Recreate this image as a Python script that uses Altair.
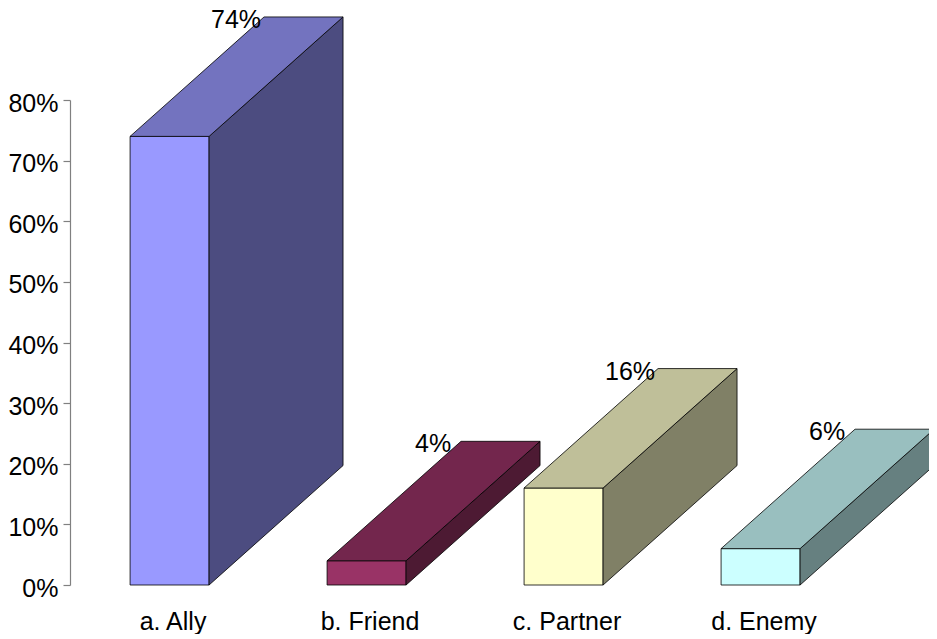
import altair as alt
import pandas as pd

# ---- data ----
categories = ["a. Ally", "b. Friend", "c. Partner", "d. Enemy"]
shares = [0.74, 0.04, 0.16, 0.06]
y_ticks = [0.0, 0.1, 0.2, 0.3, 0.4, 0.5, 0.6, 0.7, 0.8]

# ---- styling ----
front_colors = ["#9999FF", "#993366", "#FFFFCC", "#CCFFFF"]
top_colors = ["#7373BF", "#73264D", "#BFBF99", "#99BFBF"]
side_colors = ["#4C4C80", "#4D1A33", "#808066", "#668080"]
FONT = "Liberation Sans"

# ---- 3D geometry (in scale units: one category slot = 1) ----
BAR_LEFT = 0.305
BAR_RIGHT = 0.706
DEPTH_X = 0.68
DEPTH_Y = 0.197
SLOT_PX = 197
PLOT_W = 859
PLOT_H = 485
X_MAX = PLOT_W / SLOT_PX

front_rows, side_rows, top_rows = [], [], []
for i, (c, s) in enumerate(zip(categories, shares)):
    left, right = i + BAR_LEFT, i + BAR_RIGHT
    front_rows.append({"cat": c, "left": left, "right": right, "share": s})
    side_rows.append({"cat": c, "x": right, "y": 0.0, "y2": s})
    side_rows.append({"cat": c, "x": right + DEPTH_X, "y": DEPTH_Y, "y2": s + DEPTH_Y})
    top_rows.append({"cat": c, "y": s, "x": left, "x2": right, "share": s})
    top_rows.append({"cat": c, "y": s + DEPTH_Y, "x": left + DEPTH_X, "x2": right + DEPTH_X, "share": s})

front_df = pd.DataFrame(front_rows)
side_df = pd.DataFrame(side_rows)
top_df = pd.DataFrame(top_rows)
label_df = pd.DataFrame([
    {"cat": c, "x": i + BAR_LEFT + DEPTH_X, "y": s + DEPTH_Y, "share": s}
    for i, (c, s) in enumerate(zip(categories, shares))
])

xscale = alt.Scale(domain=[0, X_MAX], nice=False, zero=False)
yscale = alt.Scale(domain=[0, 0.8], nice=False)

centers = [i + (BAR_LEFT + BAR_RIGHT) / 2 + 0.015 for i in range(len(categories))]
label_expr = "[" + ",".join("'" + c + "'" for c in categories) + "][round(datum.value - 0.52)]"

x_axis = alt.Axis(values=centers, labelExpr=label_expr, title=None, grid=False,
                  domain=False, ticks=False, tickSize=0, labelPadding=24,
                  labelFontSize=25, labelFont=FONT, labelColor="black")
y_axis = alt.Axis(values=y_ticks, format=".0%", title=None, grid=False,
                  domainColor="#808080", domainWidth=1.2, tickColor="#808080",
                  tickSize=7, tickWidth=1.2, labelPadding=5, labelOffset=3,
                  labelFontSize=25, labelFont=FONT, labelColor="black")

front = alt.Chart(front_df).mark_rect(stroke="black", strokeWidth=0.8).encode(
    x=alt.X("left:Q", scale=xscale, axis=x_axis),
    x2="right:Q",
    y=alt.Y("share:Q", scale=yscale, axis=y_axis),
    y2=alt.datum(0),
    color=alt.Color("cat:N", scale=alt.Scale(domain=categories, range=front_colors), legend=None),
)

side = alt.Chart(side_df).mark_area(orient="vertical", stroke="black", strokeWidth=0.8, opacity=1).encode(
    x=alt.X("x:Q", scale=xscale, axis=x_axis),
    y=alt.Y("y:Q", scale=yscale, axis=y_axis, stack=None),
    y2="y2:Q",
    color=alt.Color("cat:N", scale=alt.Scale(domain=categories, range=side_colors), legend=None),
)

top = alt.Chart(top_df).mark_area(orient="horizontal", stroke="black", strokeWidth=0.8, opacity=1).encode(
    y=alt.Y("y:Q", scale=yscale, axis=y_axis),
    x=alt.X("x:Q", scale=xscale, axis=x_axis, stack=None),
    x2="x2:Q",
    color=alt.Color("cat:N", scale=alt.Scale(domain=categories, range=top_colors), legend=None),
)

labels = alt.Chart(label_df).mark_text(
    font=FONT, fontSize=25, color="black", align="center", baseline="middle", dx=-28, dy=3
).encode(
    x=alt.X("x:Q", scale=xscale, axis=x_axis),
    y=alt.Y("y:Q", scale=yscale, axis=y_axis),
    text=alt.Text("share:Q", format=".0%"),
)

chart = alt.layer(front, side, top, labels).resolve_scale(color="independent").properties(
    width=PLOT_W, height=PLOT_H,
    padding={"left": 62, "top": 92, "right": 0, "bottom": 49},
    autosize=alt.AutoSizeParams(type="none"),
).configure(font=FONT).configure_view(stroke=None)

chart.save("out.html", embed_options={"renderer": "svg", "actions": False})
